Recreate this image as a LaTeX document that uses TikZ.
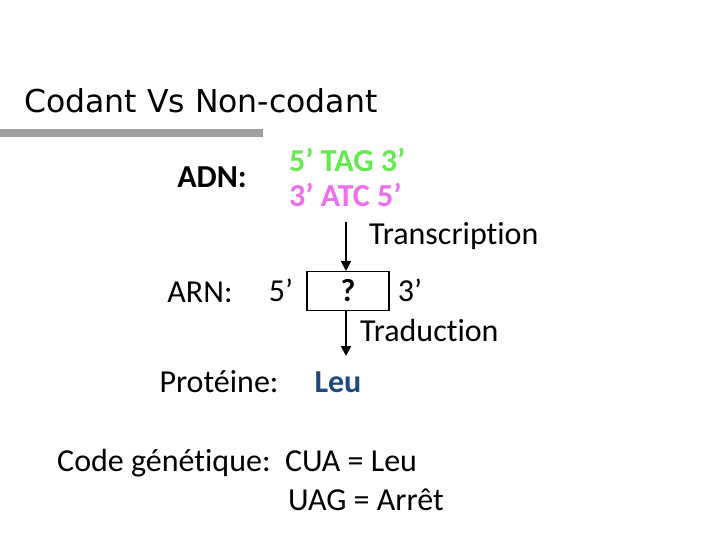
\documentclass[tikz,border=0pt]{standalone}
\usepackage{fontspec}
\setmainfont[Ligatures={NoCommon}]{Carlito}
\newfontfamily\titlefont{DejaVu Sans}
\usetikzlibrary{arrows.meta}
\begin{document}
\begin{tikzpicture}[x=1pt,y=-1pt,
  txt/.style={inner sep=0pt,font=\fontsize{32}{36}\selectfont},
  bt/.style={inner sep=0pt,font=\fontsize{32}{36}\selectfont\bfseries},
  arr/.style={line width=2pt,-{Triangle[length=10pt,width=10pt]}}]
\useasboundingbox (0,0) rectangle (720,540);
\node[inner sep=0pt,anchor=west,font=\titlefont\fontsize{31.5}{36}\selectfont] (title) at (24,101) {Codant Vs Non-codant};
\fill[gray!75] (0,129) rectangle (263,137);
\node[bt] (adn) at (212,177) {ADN:};
\node[bt,anchor=west,text={rgb,255:red,102;green,232;blue,80}] (s1) at (289,160) {5’ TAG 3’};
\node[bt,anchor=west,text={rgb,255:red,238;green,110;blue,238}] (s2) at (289,195) {3’ ATC 5’};
\coordinate (a1) at (346,222);
\node[txt,anchor=west] (tr) at (369,236) {Transcription};
\node[txt] (arn) at (200,292) {ARN:};
\node[txt] (p5) at (281,290) {5’};
\node[draw,line width=1.5pt,minimum width=82pt,minimum height=39pt,inner sep=0pt,font=\fontsize{32}{36}\selectfont\bfseries] (box) at (348,291) {?};
\node[txt] (p3) at (410,290) {3’};
\draw[arr] (a1) -- (346,271);
\draw[arr] (box.south -| a1) -- (346,356);
\node[txt,anchor=west] (trad) at (360,331) {Traduction};
\node[txt] (prot) at (219,382) {Protéine:};
\node[bt,text={rgb,255:red,31;green,73;blue,125}] (leu) at (338,382) {Leu};
\node[txt,anchor=west] (code) at (57,463) {Code génétique:\ \ CUA = Leu};
\node[txt,anchor=west] (uag) at (288,500) {UAG = Arrêt};
\end{tikzpicture}
\end{document}
